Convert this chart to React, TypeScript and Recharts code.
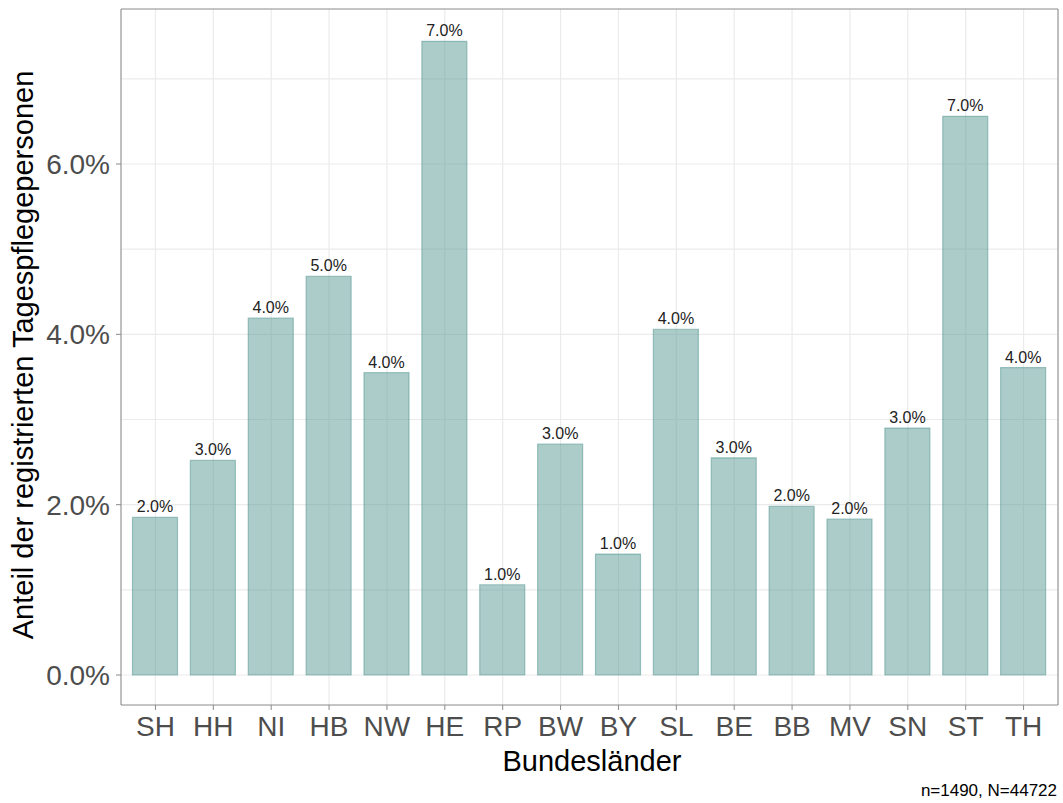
import { BarChart, Bar, XAxis, YAxis, CartesianGrid, LabelList } from "recharts";

const states = ["SH", "HH", "NI", "HB", "NW", "HE", "RP", "BW", "BY", "SL", "BE", "BB", "MV", "SN", "ST", "TH"];
const shares = [1.85, 2.52, 4.19, 4.68, 3.55, 7.44, 1.06, 2.71, 1.42, 4.06, 2.55, 1.98, 1.83, 2.9, 6.56, 3.61];
const barLabels = ["2.0%", "3.0%", "4.0%", "5.0%", "4.0%", "7.0%", "1.0%", "3.0%", "1.0%", "4.0%", "3.0%", "2.0%", "2.0%", "3.0%", "7.0%", "4.0%"];
const yTicks = [0, 2, 4, 6];
const gridLines = [0, 1, 2, 3, 4, 5, 6, 7];

const data = states.map((s, i) => ({ state: s, share: shares[i], label: barLabels[i] }));

const FONT = "'Liberation Sans', Arial, sans-serif";
const BORDER = "#8a8a8a";
const DOMAIN: [number, number] = [-0.352, 7.82];

export default function App() {
  return (
    <div style={{ position: "absolute", left: 0, top: 0, width: 1063, height: 803, background: "#fff", fontFamily: FONT }}>
      <BarChart width={1063} height={803} data={data} margin={{ top: 8, right: 4, left: 0, bottom: 0 }}>
        <CartesianGrid stroke="#ebebeb" strokeWidth={1.2} horizontalValues={gridLines} />
        <XAxis
          dataKey="state"
          height={98}
          padding={{ left: 5.5, right: 5.5 }}
          tick={{ fontSize: 28, fill: "#4d4d4d", fontFamily: FONT }}
          tickSize={5}
          tickMargin={6}
          tickLine={{ stroke: BORDER }}
          axisLine={{ stroke: BORDER }}
          interval={0}
          label={{
            content: () => (
              <text x={592} y={771} textAnchor="middle" fontSize={29} fill="#000" fontFamily={FONT}>
                Bundesländer
              </text>
            ),
          }}
        />
        <XAxis xAxisId="top" dataKey="state" orientation="top" height={1} tick={false} tickLine={false} axisLine={{ stroke: BORDER }} />
        <YAxis
          width={121}
          domain={DOMAIN}
          ticks={yTicks}
          allowDataOverflow
          tickFormatter={(v: number) => `${v.toFixed(1)}%`}
          tick={{ fontSize: 28, fill: "#4d4d4d", fontFamily: FONT }}
          tickSize={5}
          tickMargin={6}
          tickLine={{ stroke: BORDER }}
          axisLine={{ stroke: BORDER }}
          label={{
            content: () => (
              <text
                x={33}
                y={355}
                transform="rotate(-90, 33, 355)"
                textAnchor="middle"
                fontSize={29}
                fill="#000"
                fontFamily={FONT}
              >
                Anteil der registrierten Tagespflegepersonen
              </text>
            ),
          }}
        />
        <YAxis yAxisId="right" orientation="right" width={1} domain={DOMAIN} tick={false} tickLine={false} axisLine={{ stroke: BORDER }} />
        <Bar
          dataKey="share"
          barSize={45}
          fill="#5a9a96"
          fillOpacity={0.5}
          stroke="#5a9a96"
          strokeOpacity={0.55}
          strokeWidth={1.2}
          isAnimationActive={false}
        >
          <LabelList dataKey="label" position="top" offset={5} style={{ fontSize: 16, fill: "#222", fontFamily: FONT }} />
        </Bar>
      </BarChart>
      <div style={{ position: "absolute", right: 6, top: 781, fontSize: 17, color: "#000" }}>n=1490, N=44722</div>
    </div>
  );
}
